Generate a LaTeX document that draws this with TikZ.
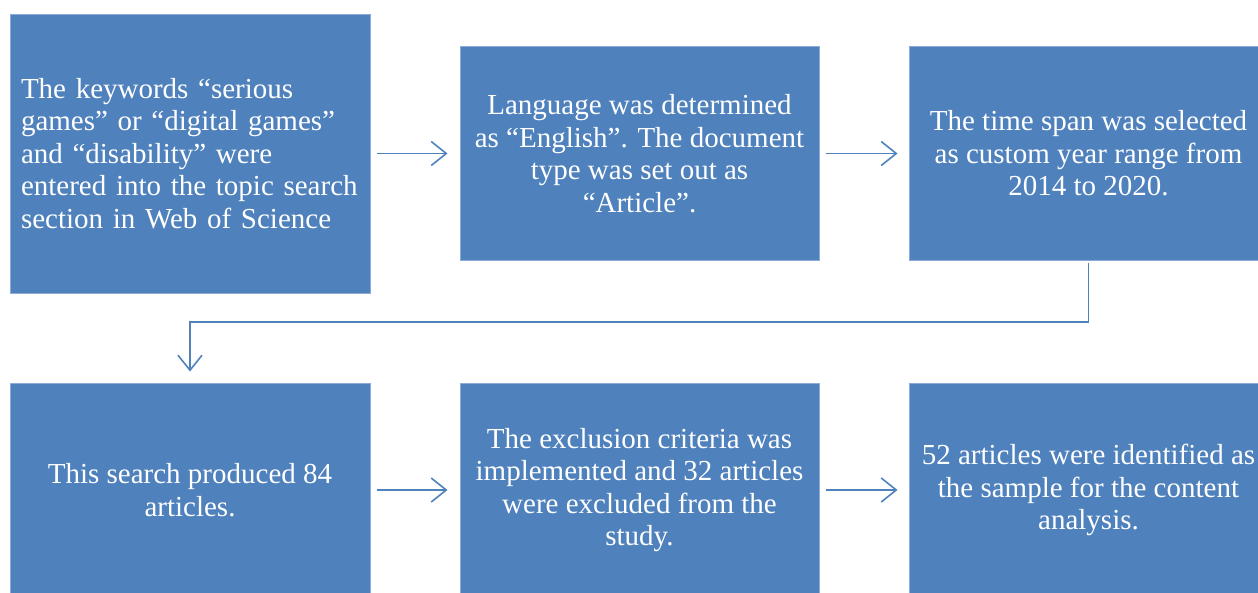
\documentclass[tikz,border=0pt]{standalone}
\usepackage{fontspec}
\setmainfont{Liberation Serif}
\usetikzlibrary{arrows.meta}
\definecolor{boxblue}{HTML}{4F81BD}
\definecolor{edgeblue}{HTML}{8EAADB}

\begin{document}
\begin{tikzpicture}[x=1pt,y=-1pt,
  stage/.style={draw=edgeblue,line width=1pt,fill=boxblue,text=white,
    minimum width=359pt,minimum height=214pt,inner sep=0pt,align=center,
    font=\fontsize{29}{32.5}\selectfont},
  flow/.style={boxblue,line width=1.6pt,
    -{Straight Barb[length=15pt,width=24pt,line width=1.6pt]}}]
\useasboundingbox (0,0) rectangle (1258,592);
% upper row
\node[stage,minimum width=360pt,minimum height=279pt,align=left,
  text width=338pt] (key) at (190,153.5)
  {The keywords “serious\\ games” or “digital games”\\ and “disability” were\\
   entered into the topic search\\ section in Web of Science};
\node[stage] (lang) at (639.5,153.5)
  {Language was determined\\ as “English”. The document\\ type was set out as\\ “Article”.};
\node[stage] (span) at (1088.5,153.5)
  {The time span was selected\\ as custom year range from\\ 2014 to 2020.};
% lower row
\node[stage,minimum width=360pt] (prod) at (190,490)
  {This search produced 84\\ articles.};
\node[stage] (excl) at (639.5,490)
  {The exclusion criteria was\\ implemented and 32 articles\\ were excluded from the\\ study.};
\node[stage] (samp) at (1088.5,490)
  {52 articles were identified as\\ the sample for the content\\ analysis.};
\coordinate (bend) at (1088.5,322);
\draw[flow,shorten <=6pt,shorten >=12pt] (key.east |- lang) -- (lang);
\draw[flow,shorten <=6pt,shorten >=11pt] (lang) -- (span);
\draw[flow,shorten <=2pt,shorten >=11pt] (span) -- (bend) -| (prod);
\draw[flow,shorten <=6pt,shorten >=12pt] (prod) -- (excl);
\draw[flow,shorten <=6pt,shorten >=11pt] (excl) -- (samp);
\end{tikzpicture}
\end{document}
